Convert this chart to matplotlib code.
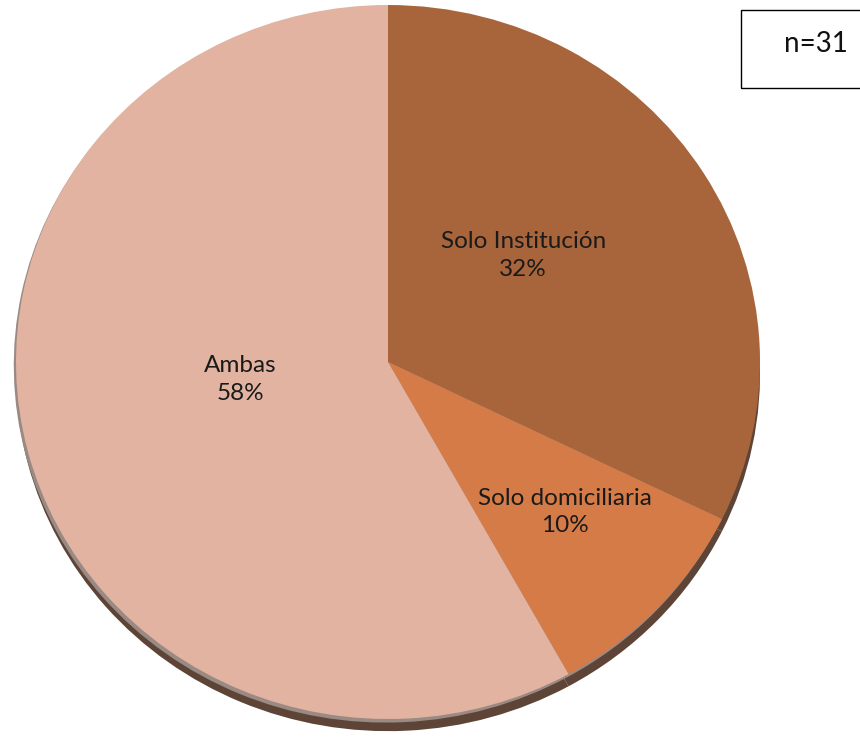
import numpy as np
import matplotlib.pyplot as plt
from matplotlib.patches import Rectangle

# Datos
categorias = ["Solo Institución", "Solo domiciliaria", "Ambas"]
valores = [10, 3, 18]
porcentajes = ["32%", "10%", "58%"]
colores = ["#A8653B", "#D57B47", "#E2B3A1"]
n_total = 31

plt.rcParams["font.family"] = ["Lato", "DejaVu Sans"]

fig = plt.figure(figsize=(8.6, 7.38), dpi=100)

# Eje del pastel (un poco achatado verticalmente)
W, H = 860, 738
left, right, top, bottom = 16, 760, 5, 719
ax = fig.add_axes([left / W, 1 - bottom / H, (right - left) / W, (bottom - top) / H])
ax.axis("off")

# Sombra
ax.pie(valores, colors=["#5E4436"] * 3, startangle=90, counterclock=False,
       center=(0, -0.034), radius=1.0, wedgeprops=dict(linewidth=0))
ax.pie(valores, colors=["#9A8A84"] * 3, startangle=90, counterclock=False,
       center=(-0.006, -0.01), radius=1.0, wedgeprops=dict(linewidth=0))

wedges, _ = ax.pie(valores, colors=colores, startangle=90, counterclock=False,
                   radius=1.0, wedgeprops=dict(linewidth=0))
ax.set_aspect("auto")
ax.set_xlim(-1, 1)
ax.set_ylim(-1, 1)

# Etiquetas
distancias = [0.47, 0.635, 0.40]
ajuste_ang = [7.4, 2.1, -7.6]
for w, cat, pct, d, da in zip(wedges, categorias, porcentajes, distancias, ajuste_ang):
    ang = np.deg2rad((w.theta1 + w.theta2) / 2 + da)
    ax.text(d * np.cos(ang), d * np.sin(ang), f"{cat}\n{pct}", ha="center",
            va="center", fontsize=17.5, color="#1a1a1a", linespacing=1.4)

# Recuadro n=31
fig.patches.append(Rectangle((741 / W, 1 - 88 / H), 125 / W, 78 / H,
                             transform=fig.transFigure, fill=False,
                             edgecolor="black", linewidth=1.0))
fig.text(784 / W, 1 - 44 / H, f"n={n_total}", ha="left", va="center",
         fontsize=20, color="#111111")

fig.savefig("out.png", dpi=100)
